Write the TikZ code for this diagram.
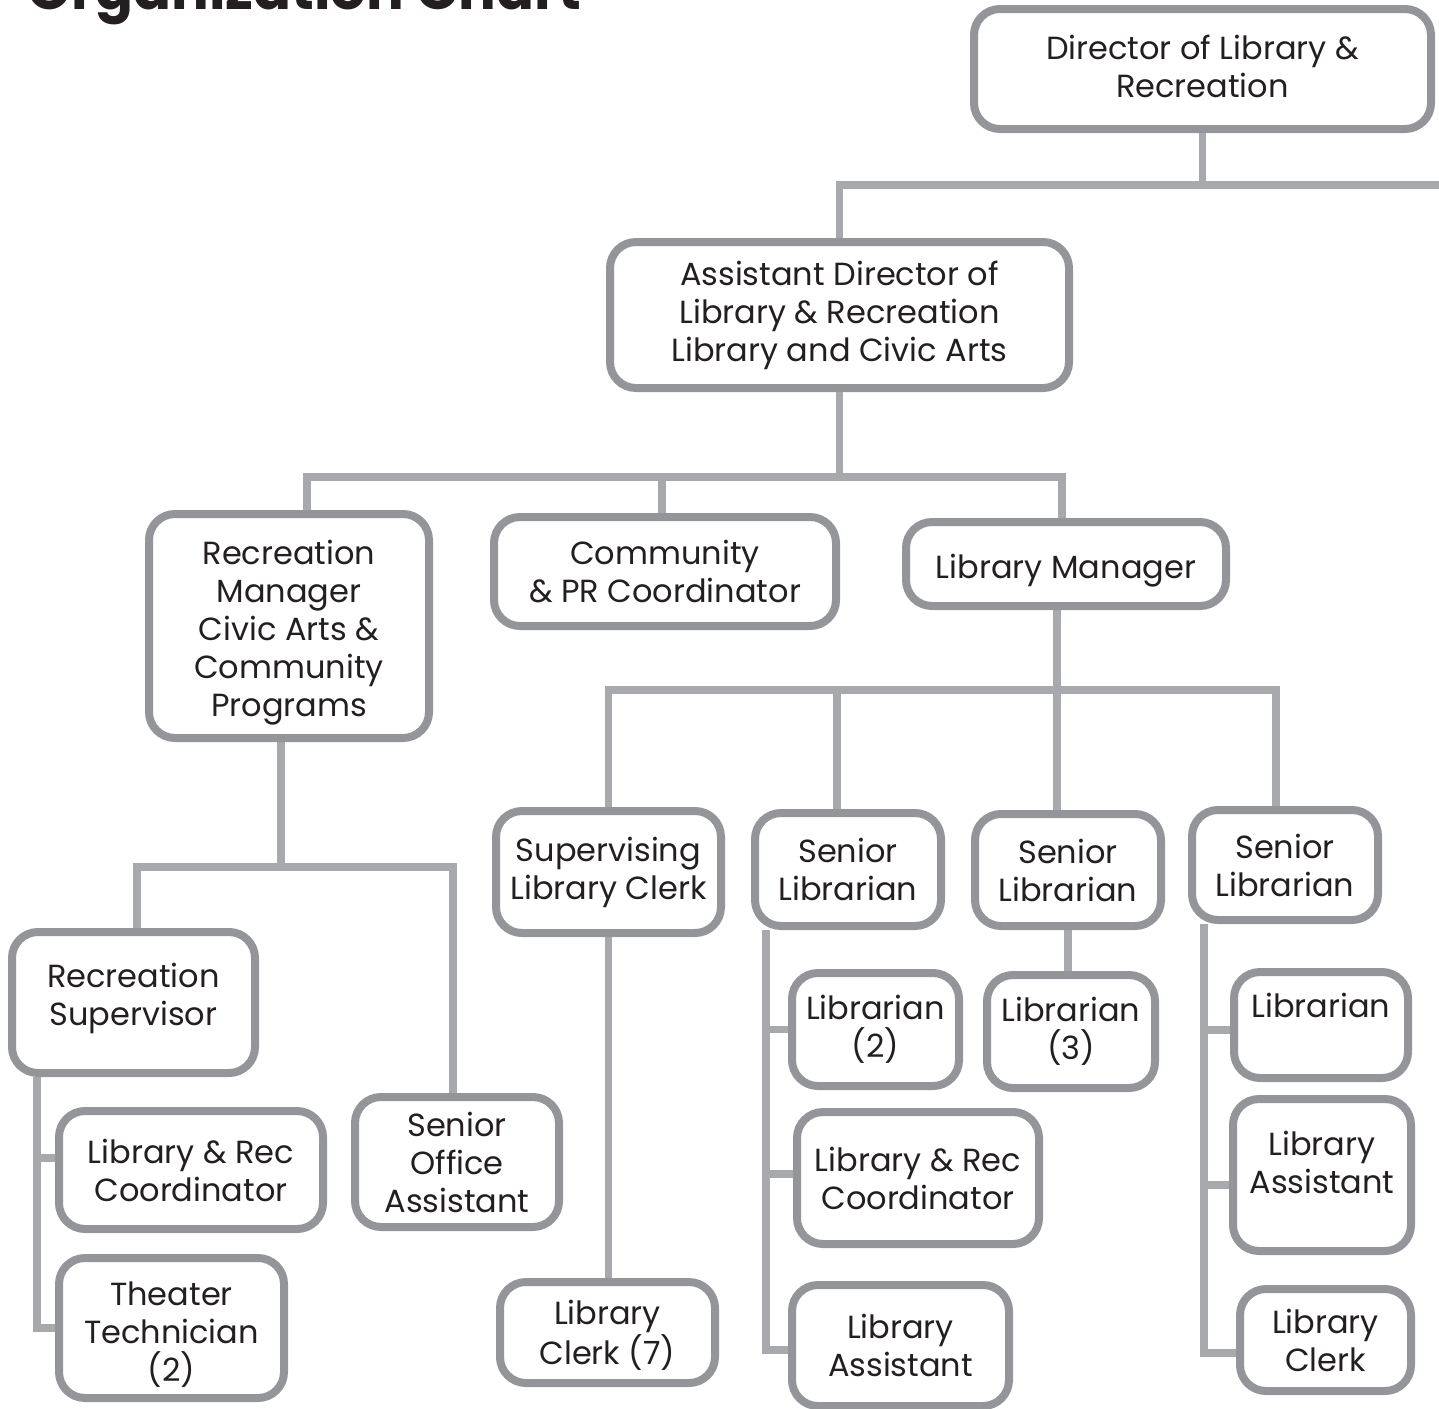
\documentclass[tikz,border=0pt]{standalone}
\usepackage{fontspec}
\setmainfont{Poppins}
\usetikzlibrary{calc,backgrounds}
\definecolor{boxline}{HTML}{939598}
\definecolor{linkline}{HTML}{A7A9AC}
\definecolor{ink}{HTML}{231F20}
\tikzset{
  box/.style={draw=boxline, line width=4pt, fill=white, rounded corners=13pt,
    align=center, inner sep=0pt, text=ink,
    font=\fontsize{16}{19}\selectfont},
  conn/.style={draw=linkline, line width=3.6pt},
  boxtext/.style={text=ink, align=center, inner sep=0pt,
    font=\fontsize{16}{19}\selectfont}
}
\begin{document}
\begin{tikzpicture}[x=0.5pt,y=-0.5pt]
\useasboundingbox (0,0) rectangle (1439,1408);

% title, partly above the page edge
\node[anchor=base west, inner sep=0pt, text=ink,
  font=\bfseries\fontsize{28}{32}\selectfont] (title) at (27,10) {Organization Chart};

% top levels
\node[box, minimum width=228.5pt, minimum height=60pt,
  label={[boxtext, yshift=1.5pt]center:Director of Library \&\\Recreation}] (dir) at (1202.5,69) {};
\node[box, minimum width=229.5pt, minimum height=73pt] (ad) at (839.5,315)
  {Assistant Director of\\Library \& Recreation\\Library and Civic Arts};
\node[box, minimum width=140pt, minimum height=112pt,
  label={[boxtext, yshift=-3.5pt]center:Recreation\\Manager\\Civic Arts \&\\Community\\Programs}] (rm) at (289,626) {};
\node[box, minimum width=171pt, minimum height=54.5pt] (cpr) at (665,571.5)
  {Community\\\& PR Coordinator};
\node[box, minimum width=160pt, minimum height=42pt,
  label={[boxtext, yshift=-3.5pt]center:Library Manager}] (lm) at (1066,564) {};

% library branch
\node[box, minimum width=112.5pt, minimum height=61pt] (slc) at (608.5,872)
  {Supervising\\Library Clerk};
\node[box, minimum width=93pt, minimum height=56.5pt] (sl1) at (848,869.5)
  {Senior\\Librarian};
\node[box, minimum width=93pt, minimum height=56pt] (sl2) at (1068,870)
  {Senior\\Librarian};
\node[box, minimum width=93pt, minimum height=55pt] (sl3) at (1285,865)
  {Senior\\Librarian};
\node[box, minimum width=107.5pt, minimum height=50.5pt,
  label={[boxtext, yshift=-1.5pt]center:Library\\Clerk (7)}] (lc7) at (607.5,1332.5) {};
\node[box, minimum width=83.5pt, minimum height=56.5pt] (lb2) at (875.5,1029.5)
  {Librarian\\(2)};
\node[box, minimum width=121pt, minimum height=66pt] (lrc2) at (918,1178)
  {Library \& Rec\\Coordinator};
\node[box, minimum width=108.5pt, minimum height=60.5pt] (la1) at (900.5,1345.5)
  {Library\\Assistant};
\node[box, minimum width=84pt, minimum height=56.5pt] (lb3) at (1071,1031.5)
  {Librarian\\(3)};
\node[box, minimum width=87pt, minimum height=53pt,
  label={[boxtext, yshift=10pt]center:Librarian}] (lb4) at (1321,1025) {};
\node[box, minimum width=89pt, minimum height=76pt,
  label={[boxtext, yshift=6.5pt]center:Library\\Assistant}] (la3) at (1322,1175) {};
\node[box, minimum width=85.5pt, minimum height=51pt] (lc3) at (1325.5,1340)
  {Library\\Clerk};

% recreation branch
\node[box, minimum width=121.5pt, minimum height=70.5pt,
  label={[boxtext, yshift=2pt]center:Recreation\\Supervisor}] (rs) at (133.5,1002.5) {};
\node[box, minimum width=132pt, minimum height=59pt] (lrc1) at (191,1170)
  {Library \& Rec\\Coordinator};
\node[box, minimum width=112.5pt, minimum height=70pt,
  label={[boxtext, yshift=-3.5pt]center:Theater\\Technician\\(2)}] (tt) at (171.5,1328) {};
\node[box, minimum width=102pt, minimum height=65pt] (soa) at (457,1162)
  {Senior\\Office\\Assistant};

% connectors, behind the boxes
\begin{scope}[on background layer]
  \coordinate (y1) at (0,185);
  \coordinate (y2) at (0,477);
  \coordinate (y3) at (0,690);
  \coordinate (y4) at (0,867);
  \coordinate (busR) at (1450,185);

  \draw[conn] (dir.south) -- (dir.south |- y1);
  \draw[conn] (ad.north) |- (busR);

  \coordinate (adS) at (ad.south);
  \coordinate (rmN) at ($(rm.north)+(18,0)$);
  \coordinate (cprN) at ($(cpr.north)+(-3,0)$);
  \coordinate (lmN) at ($(lm.north)+(-4,0)$);
  \draw[conn] (adS) -- (adS |- y2);
  \draw[conn] (rmN) |- (adS |- y2) -| (lmN);
  \draw[conn] (cprN) -- (cprN |- y2);

  \coordinate (lmS) at ($(lm.south)+(-9,0)$);
  \coordinate (sl1N) at ($(sl1.north)+(-11,0)$);
  \coordinate (sl2N) at ($(sl2.north)+(-11,0)$);
  \coordinate (sl3N) at ($(sl3.north)+(-9,0)$);
  \draw[conn] (lmS) -- (lmS |- y3);
  \draw[conn] (slc.north) |- (lmS |- y3) -| (sl3N);
  \draw[conn] (sl1N) -- (sl1N |- y3);
  \draw[conn] (sl2N) -- (sl2N |- y3);

  \draw[conn] (slc.south) -- (slc.south |- lc7.north);
  \draw[conn] (sl2.south) -- (sl2.south |- lb3.north);

  \coordinate (sp1) at ($(sl1.south)+(-82,0)$);
  \draw[conn] (sp1) |- ($(la1.west)+(0,4.5)$);
  \draw[conn] (sp1) |- (lb2.west);
  \draw[conn] (sp1) |- ($(lrc2.west)+(0,-4)$);

  \coordinate (sp3) at ($(sl3.south)+(-81,0)$);
  \draw[conn] (sp3) |- ($(lc3.west)+(0,13)$);
  \draw[conn] (sp3) |- ($(lb4.west)+(0,5)$);
  \draw[conn] (sp3) |- ($(la3.west)+(0,10)$);

  \coordinate (rmS) at ($(rm.south)+(-8,0)$);
  \coordinate (rsN) at ($(rs.north)+(3.5,0)$);
  \coordinate (soaN) at ($(soa.north)+(-4,0)$);
  \draw[conn] (rmS) -- (rmS |- y4);
  \draw[conn] (rsN) |- (rmS |- y4) -| (soaN);

  \coordinate (sp0) at ($(rs.south)+(-96.5,0)$);
  \draw[conn] (sp0) |- (tt.west);
  \draw[conn] (sp0) |- ($(lrc1.west)+(0,-12)$);
\end{scope}
\end{tikzpicture}
\end{document}
